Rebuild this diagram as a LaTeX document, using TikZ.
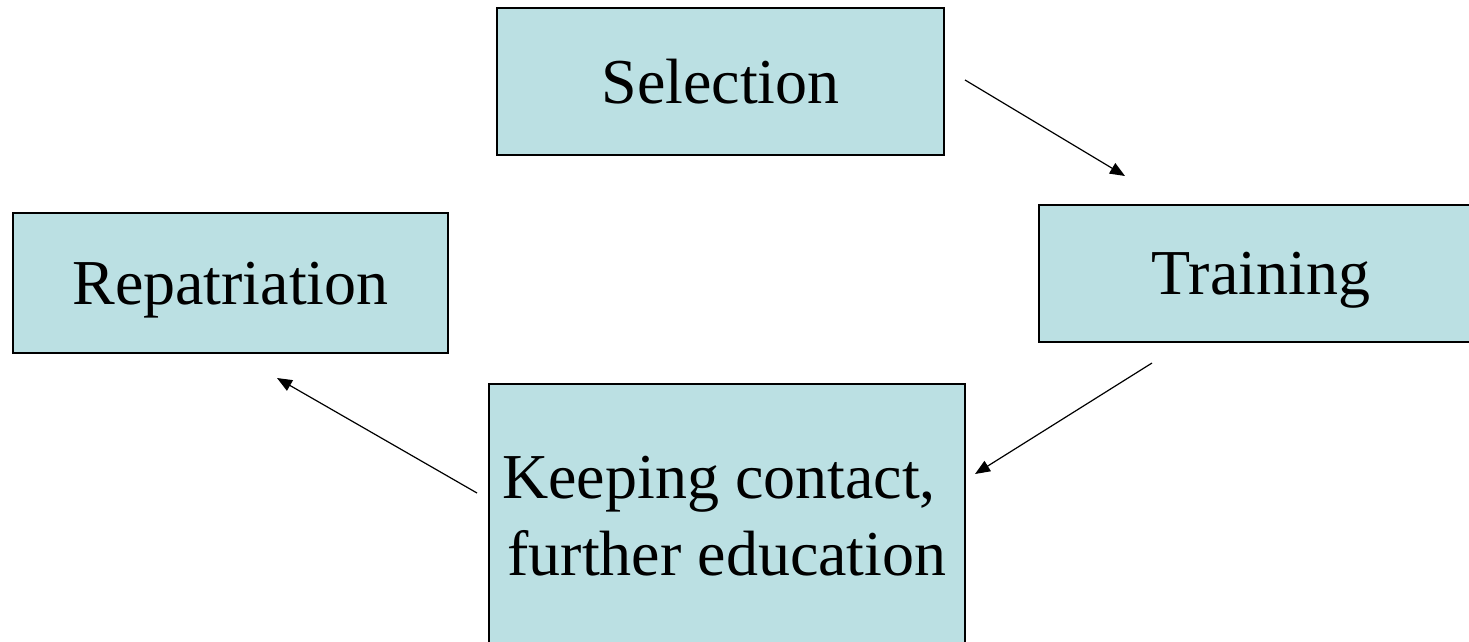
\documentclass[tikz,border=0pt]{standalone}
\usepackage{fontspec}
\setmainfont{Liberation Serif}
\usepackage{xcolor}
\usetikzlibrary{arrows.meta}
\definecolor{stageblue}{RGB}{187,224,227}

\begin{document}
\begin{tikzpicture}[x=1pt,y=-1pt]
  \tikzset{stage/.style = {shape=rectangle,draw,fill=stageblue,line width=1.4pt,inner sep=0pt,text depth=0pt,font=\fontsize{64}{76.8}\selectfont}}
  \tikzset{%
  tipA/.tip={Triangle[length=15pt,width=12pt]},
}
  \tikzset{edge/.style = {-tipA,line width=1.2pt}}

  \useasboundingbox (0,0) rectangle (1469,641);

	\node[stage,minimum width=447pt,minimum height=147pt] (SEL) at (720.5,81.5) {Selection};
	\node[stage,minimum width=444pt,minimum height=137pt] (TRA) at (1261,273.5) {Training};
	\node[stage,minimum width=435pt,minimum height=140pt] (REP) at (230.5,283) {Repatriation};
	\node[stage,minimum width=476pt,minimum height=263pt,align=center] (KEEP) at (727,515.5) {Keeping contact,\phantom{\ }\\further education};

	\coordinate (SELout) at (965,80);
	\coordinate (TRAin) at (1125,176);
	\coordinate (TRAout) at (1152,363);
	\coordinate (KEEPin) at (975,474);
	\coordinate (KEEPout) at (477,493);
	\coordinate (REPin) at (277,378);

    \foreach \from/\to in {SELout/TRAin, TRAout/KEEPin, KEEPout/REPin}
    \draw[edge] (\from) -- (\to);

\end{tikzpicture}
\end{document}
